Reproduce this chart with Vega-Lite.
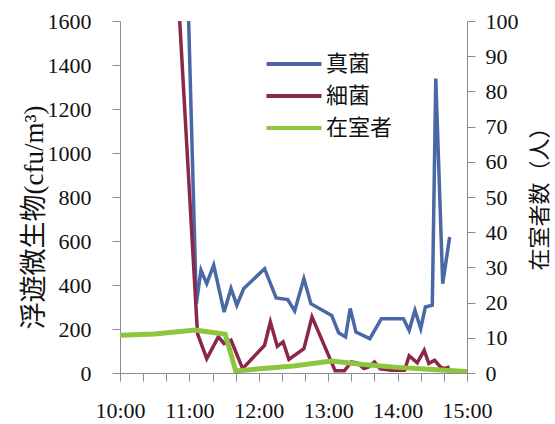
{
  "$schema": "https://vega.github.io/schema/vega-lite/v6.json",
  "width": 347,
  "height": 352,
  "autosize": {"type": "none"},
  "padding": {"left": 120, "top": 21, "right": 88, "bottom": 51},
  "background": "white",
  "config": {
    "view": {"stroke": null},
    "axis": {
      "grid": false,
      "domainColor": "#8c8c8c",
      "tickColor": "#8c8c8c",
      "labelColor": "#111111",
      "labelFont": "Liberation Serif",
      "labelFontSize": 22,
      "tickSize": 8,
      "labelFlush": false,
      "labelOverlap": false,
      "titleFont": "Liberation Serif, Noto Sans CJK JP",
      "titleFontWeight": "normal",
      "titleColor": "#111111"
    }
  },
  "data": {
    "values": [
      {"series": "真菌", "minuteOfDay": 655, "value": 2440},
      {"series": "真菌", "minuteOfDay": 666, "value": 315},
      {"series": "真菌", "minuteOfDay": 670, "value": 467},
      {"series": "真菌", "minuteOfDay": 675, "value": 406},
      {"series": "真菌", "minuteOfDay": 681, "value": 490},
      {"series": "真菌", "minuteOfDay": 690, "value": 277},
      {"series": "真菌", "minuteOfDay": 696, "value": 384},
      {"series": "真菌", "minuteOfDay": 701, "value": 308},
      {"series": "真菌", "minuteOfDay": 707, "value": 384},
      {"series": "真菌", "minuteOfDay": 725, "value": 474},
      {"series": "真菌", "minuteOfDay": 735, "value": 341},
      {"series": "真菌", "minuteOfDay": 745, "value": 334},
      {"series": "真菌", "minuteOfDay": 751, "value": 282},
      {"series": "真菌", "minuteOfDay": 759, "value": 429},
      {"series": "真菌", "minuteOfDay": 765, "value": 315},
      {"series": "真菌", "minuteOfDay": 783, "value": 262},
      {"series": "真菌", "minuteOfDay": 789, "value": 183},
      {"series": "真菌", "minuteOfDay": 795, "value": 164},
      {"series": "真菌", "minuteOfDay": 799, "value": 293},
      {"series": "真菌", "minuteOfDay": 804, "value": 186},
      {"series": "真菌", "minuteOfDay": 816, "value": 156},
      {"series": "真菌", "minuteOfDay": 826, "value": 247},
      {"series": "真菌", "minuteOfDay": 845, "value": 247},
      {"series": "真菌", "minuteOfDay": 850, "value": 194},
      {"series": "真菌", "minuteOfDay": 855, "value": 285},
      {"series": "真菌", "minuteOfDay": 860, "value": 202},
      {"series": "真菌", "minuteOfDay": 864, "value": 300},
      {"series": "真菌", "minuteOfDay": 870, "value": 308},
      {"series": "真菌", "minuteOfDay": 873, "value": 1338},
      {"series": "真菌", "minuteOfDay": 879, "value": 406},
      {"series": "真菌", "minuteOfDay": 885, "value": 618},
      {"series": "細菌", "minuteOfDay": 650, "value": 1750},
      {"series": "細菌", "minuteOfDay": 667, "value": 179},
      {"series": "細菌", "minuteOfDay": 675, "value": 65},
      {"series": "細菌", "minuteOfDay": 685, "value": 164},
      {"series": "細菌", "minuteOfDay": 690, "value": 134},
      {"series": "細菌", "minuteOfDay": 696, "value": 149},
      {"series": "細菌", "minuteOfDay": 706, "value": 20},
      {"series": "細菌", "minuteOfDay": 725, "value": 126},
      {"series": "細菌", "minuteOfDay": 730, "value": 232},
      {"series": "細菌", "minuteOfDay": 736, "value": 121},
      {"series": "細菌", "minuteOfDay": 741, "value": 141},
      {"series": "細菌", "minuteOfDay": 746, "value": 62},
      {"series": "細菌", "minuteOfDay": 759, "value": 111},
      {"series": "細菌", "minuteOfDay": 766, "value": 255},
      {"series": "細菌", "minuteOfDay": 786, "value": 10},
      {"series": "細菌", "minuteOfDay": 794, "value": 10},
      {"series": "細菌", "minuteOfDay": 800, "value": 50},
      {"series": "細菌", "minuteOfDay": 805, "value": 46},
      {"series": "細菌", "minuteOfDay": 811, "value": 20},
      {"series": "細菌", "minuteOfDay": 815, "value": 27},
      {"series": "細菌", "minuteOfDay": 820, "value": 50},
      {"series": "細菌", "minuteOfDay": 825, "value": 19},
      {"series": "細菌", "minuteOfDay": 835, "value": 12},
      {"series": "細菌", "minuteOfDay": 846, "value": 12},
      {"series": "細菌", "minuteOfDay": 850, "value": 78},
      {"series": "細菌", "minuteOfDay": 857, "value": 46},
      {"series": "細菌", "minuteOfDay": 863, "value": 103},
      {"series": "細菌", "minuteOfDay": 867, "value": 43},
      {"series": "細菌", "minuteOfDay": 872, "value": 58},
      {"series": "細菌", "minuteOfDay": 877, "value": 28},
      {"series": "細菌", "minuteOfDay": 880, "value": 20},
      {"series": "細菌", "minuteOfDay": 885, "value": 28},
      {"series": "在室者", "minuteOfDay": 600, "value": 10.7},
      {"series": "在室者", "minuteOfDay": 630, "value": 11.1},
      {"series": "在室者", "minuteOfDay": 665, "value": 12.2},
      {"series": "在室者", "minuteOfDay": 691, "value": 11},
      {"series": "在室者", "minuteOfDay": 700, "value": 0.6},
      {"series": "在室者", "minuteOfDay": 750, "value": 2.0},
      {"series": "在室者", "minuteOfDay": 783, "value": 3.4},
      {"series": "在室者", "minuteOfDay": 810, "value": 2.4},
      {"series": "在室者", "minuteOfDay": 840, "value": 1.6},
      {"series": "在室者", "minuteOfDay": 870, "value": 1.0},
      {"series": "在室者", "minuteOfDay": 900, "value": 0.4}
    ]
  },
  "encoding": {
    "x": {
      "field": "minuteOfDay",
      "type": "quantitative",
      "scale": {"domain": [600, 900], "nice": false, "zero": false},
      "axis": {
        "title": null,
        "values": [600, 620, 640, 660, 680, 700, 720, 740, 760, 780, 800, 820, 840, 860, 880, 900],
        "labelExpr": "datum.value % 60 == 0 ? floor(datum.value / 60) + ':00' : ''",
        "labelOverlap": false,
        "labelPadding": 19,
        "ticks": true,
        "tickSize": 8,
        "tickWidth": 1,
        "tickColor": "#8c8c8c"
      }
    },
    "color": {
      "field": "series",
      "type": "nominal",
      "scale": {
        "domain": ["真菌", "細菌", "在室者"],
        "range": ["#4a68a6", "#8c2748", "#8cc63f"]
      },
      "legend": {
        "orient": "none",
        "legendX": 163,
        "legendY": 32,
        "title": null,
        "symbolType": "M-5,0H5",
        "symbolSize": 121,
        "symbolStrokeWidth": 4,
        "rowPadding": 10,
        "labelFont": "Noto Sans CJK JP",
        "labelFontSize": 22,
        "labelColor": "#111111",
        "labelOffset": 21
      }
    }
  },
  "layer": [
    {
      "transform": [{"filter": "datum.series !== '在室者'"}],
      "mark": {"type": "line", "clip": true, "strokeWidth": 3.5},
      "encoding": {
        "y": {
          "field": "value",
          "type": "quantitative",
          "scale": {"domain": [0, 1600], "nice": false},
          "axis": {
            "title": "浮遊微生物(cfu/m³)",
            "format": "d",
            "values": [0, 200, 400, 600, 800, 1000, 1200, 1400, 1600],
            "labelPadding": 21,
            "ticks": true,
            "tickSize": 8,
            "titleFontSize": 27,
            "titleAngle": 270,
            "titleX": -86,
            "titleY": 196,
            "titleAlign": "center",
            "titleBaseline": "middle"
          }
        }
      }
    },
    {
      "transform": [{"filter": "datum.series === '在室者'"}],
      "mark": {"type": "line", "clip": true, "strokeWidth": 5},
      "encoding": {
        "y": {
          "field": "value",
          "type": "quantitative",
          "scale": {"domain": [0, 100], "nice": false},
          "axis": {
            "orient": "right",
            "title": "在室者数（人）",
            "values": [0, 10, 20, 30, 40, 50, 60, 70, 80, 90, 100],
            "labelPadding": 10,
            "ticks": true,
            "tickSize": 8,
            "titleFontSize": 22,
            "titleAngle": 270,
            "titleX": 72,
            "titleY": 172,
            "titleAlign": "center",
            "titleBaseline": "middle"
          }
        }
      }
    }
  ],
  "resolve": {"scale": {"y": "independent"}}
}
